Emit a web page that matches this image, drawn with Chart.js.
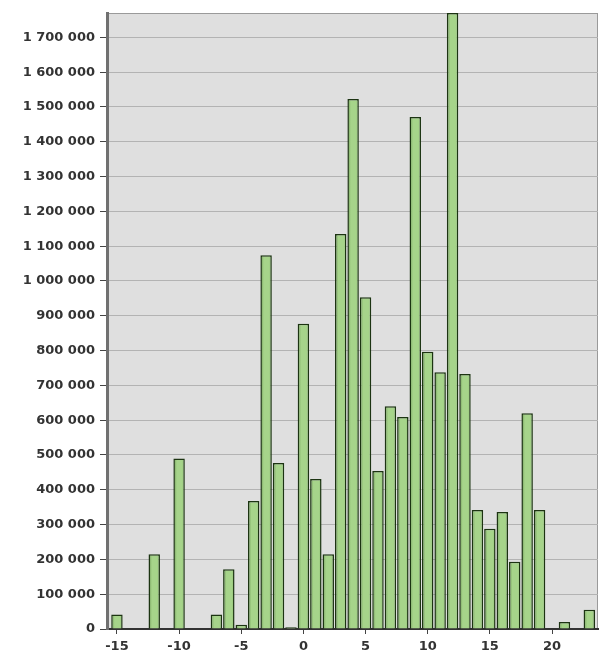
<!DOCTYPE html>
<html>
<head>
<meta charset="utf-8">
<script src="https://cdn.jsdelivr.net/npm/chart.js@4"></script>
<style>
  body { margin: 0; background: #fff; }
</style>
</head>
<body>
<canvas id="hist" width="605" height="650"></canvas>
<script>
// bins (x) and counts (y)
const bins = [-15, -12, -10, -7, -6, -5, -4, -3, -2, -1, 0, 1, 2, 3, 4, 5, 6, 7, 8, 9,
  10, 11, 12, 13, 14, 15, 16, 17, 18, 19, 21, 23];
const counts = [42000, 215000, 490000, 42000, 172000, 12000, 368000, 1074000, 477000, 5000,
  877000, 431000, 215000, 1135000, 1523000, 953000, 454000, 640000, 609000, 1471000,
  797000, 738000, 1770000, 733000, 342000, 288000, 336000, 193000, 620000, 342000,
  20000, 55000];
const xTicks = [-15, -10, -5, 0, 5, 10, 15, 20];
const yTicks = [0, 100000, 200000, 300000, 400000, 500000, 600000, 700000, 800000, 900000,
  1000000, 1100000, 1200000, 1300000, 1400000, 1500000, 1600000, 1700000];
const xRange = [-15.8, 23.7];
const yMax = 1770000;

function spaced(v) {
  return String(v).replace(/\B(?=(\d{3})+(?!\d))/g, ' ');
}

// grey plot background + thin frame
const plotBg = {
  id: 'plotBg',
  beforeDraw(chart) {
    const a = chart.chartArea, c = chart.ctx;
    c.save();
    c.fillStyle = '#dfdfdf';
    c.fillRect(a.left, a.top, a.right - a.left, a.bottom - a.top);
    c.strokeStyle = '#9a9a9a';
    c.lineWidth = 1;
    c.strokeRect(a.left + 0.5, a.top + 0.5, a.right - a.left - 1, a.bottom - a.top);
    c.restore();
  }
};

// shaded bar fill: darker stripe on the left, light centre
function barFill(ctx) {
  const chart = ctx.chart;
  const xs = chart.scales.x;
  if (!xs || !ctx.parsed || xs.width === undefined) return '#a4d389';
  const px = xs.getPixelForValue(ctx.parsed.x);
  const half = (xs.getPixelForValue(1) - xs.getPixelForValue(0)) * 0.46;
  const g = chart.ctx.createLinearGradient(px - half, 0, px + half, 0);
  g.addColorStop(0, '#6e9a55');
  g.addColorStop(0.3, '#a6d48a');
  g.addColorStop(0.75, '#a6d48a');
  g.addColorStop(1, '#8fbf73');
  return g;
}

const font = { family: 'DejaVu Sans', size: 13, weight: 'bold' };

new Chart(document.getElementById('hist'), {
  type: 'bar',
  data: {
    datasets: [{
      data: bins.map((b, i) => ({ x: b, y: counts[i] })),
      backgroundColor: barFill,
      borderColor: '#1c3412',
      borderWidth: 1.5,
      barPercentage: 0.92,
      categoryPercentage: 1
    }]
  },
  options: {
    responsive: false,
    animation: false,
    devicePixelRatio: 1,
    layout: { padding: { top: 13, right: 7, left: 0, bottom: 0 } },
    plugins: { legend: { display: false }, tooltip: { enabled: false } },
    scales: {
      x: {
        type: 'linear',
        min: xRange[0],
        max: xRange[1],
        offset: false,
        afterFit(s) { s.height = 21; },
        afterBuildTicks(s) { s.ticks = xTicks.map(v => ({ value: v })); },
        grid: { offset: false, drawOnChartArea: false, drawTicks: true, tickLength: 5, tickColor: '#444' },
        border: { display: true, color: '#333', width: 2 },
        ticks: {
          padding: 5,
          color: '#333',
          font: font,
          maxRotation: 0,
          autoSkip: false,
          callback: v => String(v)
        }
      },
      y: {
        min: 0,
        max: yMax,
        afterFit(s) { s.width = 107; },
        afterBuildTicks(s) { s.ticks = yTicks.map(v => ({ value: v })); },
        grid: { color: '#b3b3b3', tickColor: '#444', tickLength: 7, lineWidth: 1 },
        border: { display: true, color: '#707070', width: 3 },
        ticks: {
          padding: 5,
          color: '#333',
          font: font,
          autoSkip: false,
          callback: v => spaced(v)
        }
      }
    }
  },
  plugins: [plotBg]
});
</script>
</body>
</html>
